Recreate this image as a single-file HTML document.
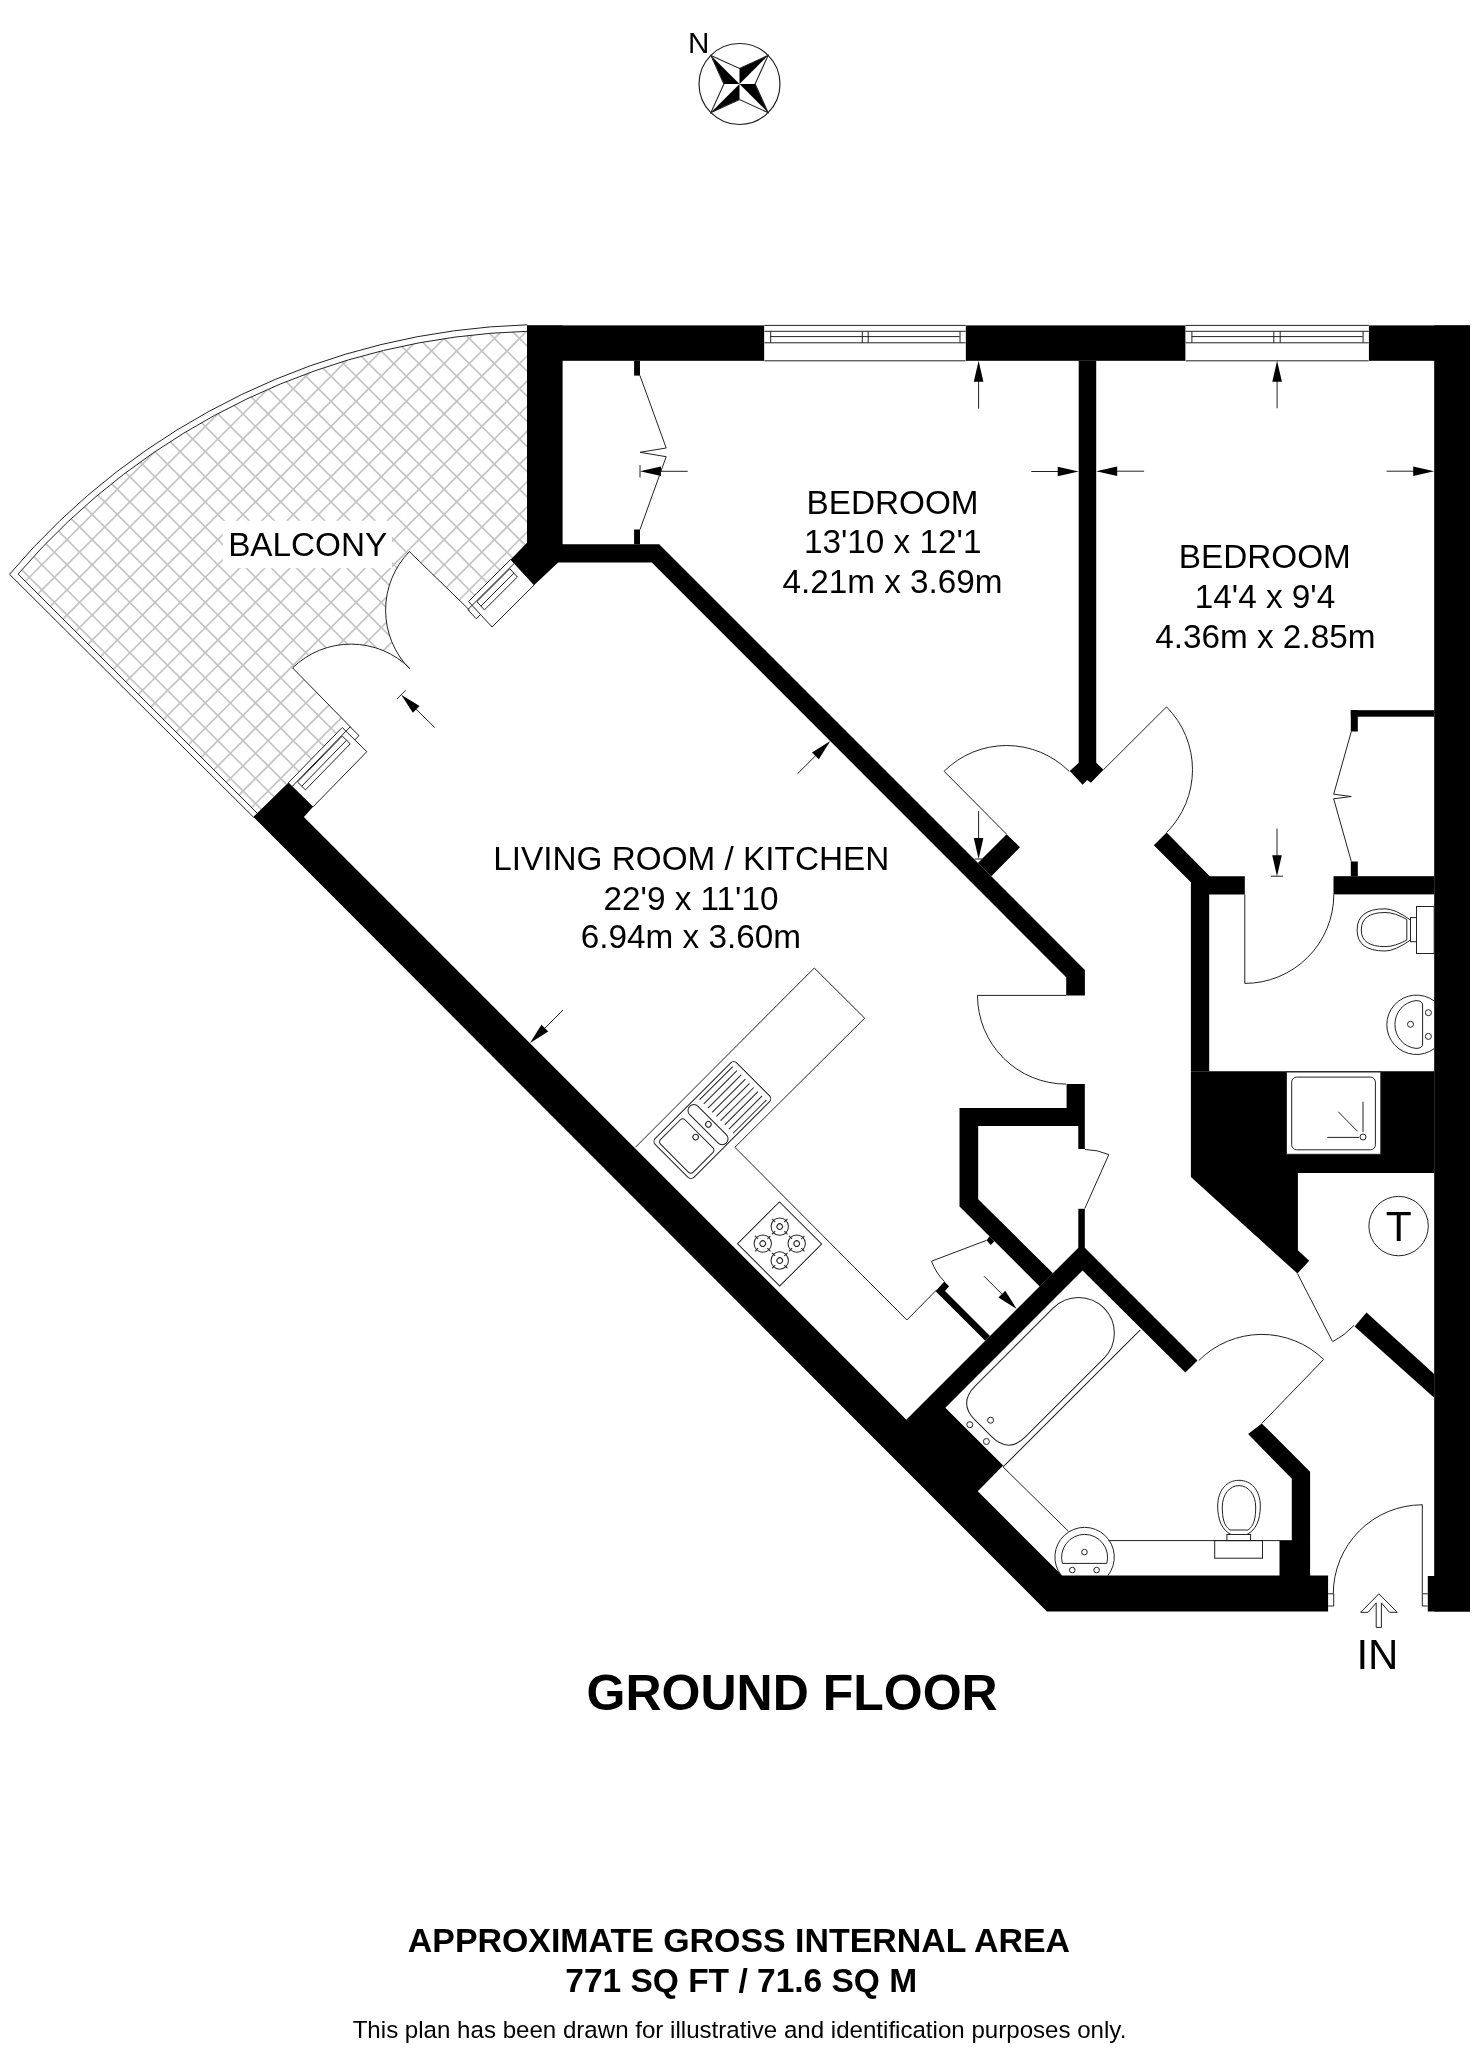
<!DOCTYPE html>
<html><head><meta charset="utf-8"><style>
html,body{margin:0;padding:0;background:#fff;width:1479px;height:2048px;overflow:hidden}
svg{display:block}
text{font-family:"Liberation Sans",sans-serif;fill:#000}
svg{will-change:transform}
</style></head><body>
<svg width="1479" height="2048" viewBox="0 0 1479 2048">
<circle cx="739.50" cy="84.00" r="40.50" fill="none" stroke="#222" stroke-width="1.2"/>
<polygon points="710.90,55.40 723.90,84.00 739.50,84.00" fill="#000" />
<polygon points="768.10,55.40 739.50,68.40 739.50,84.00" fill="#000" />
<polygon points="768.10,112.60 755.10,84.00 739.50,84.00" fill="#000" />
<polygon points="710.90,112.60 739.50,99.60 739.50,84.00" fill="#000" />
<polygon points="710.90,55.40 739.50,68.40 768.10,55.40 755.10,84.00 768.10,112.60 739.50,99.60 710.90,112.60 723.90,84.00" fill="none" stroke="#222" stroke-width="1.1" stroke-linejoin="miter"/>
<text x="698.80" y="53.00" font-size="29.6" text-anchor="middle" font-weight="normal">N</text>
<defs><clipPath id="balc"><path d="M18.05,574.1 A696.9,696.9 0 0 1 527.3,331.3 L527,542.7 L510.7,559.4 L257.3,813.3 Z"/></clipPath></defs>
<g clip-path="url(#balc)" stroke="#c4c4c4" stroke-width="1.7">
<line x1="-10" y1="990.52" x2="600" y2="1600.52"/>
<line x1="-10" y1="965.38" x2="600" y2="1575.38"/>
<line x1="-10" y1="940.24" x2="600" y2="1550.24"/>
<line x1="-10" y1="915.1" x2="600" y2="1525.1"/>
<line x1="-10" y1="889.96" x2="600" y2="1499.96"/>
<line x1="-10" y1="864.8199999999999" x2="600" y2="1474.82"/>
<line x1="-10" y1="839.6800000000001" x2="600" y2="1449.68"/>
<line x1="-10" y1="814.54" x2="600" y2="1424.54"/>
<line x1="-10" y1="789.4" x2="600" y2="1399.4"/>
<line x1="-10" y1="764.26" x2="600" y2="1374.26"/>
<line x1="-10" y1="739.12" x2="600" y2="1349.12"/>
<line x1="-10" y1="713.98" x2="600" y2="1323.98"/>
<line x1="-10" y1="688.84" x2="600" y2="1298.8400000000001"/>
<line x1="-10" y1="663.7" x2="600" y2="1273.7"/>
<line x1="-10" y1="638.56" x2="600" y2="1248.56"/>
<line x1="-10" y1="613.42" x2="600" y2="1223.42"/>
<line x1="-10" y1="588.28" x2="600" y2="1198.28"/>
<line x1="-10" y1="563.14" x2="600" y2="1173.1399999999999"/>
<line x1="-10" y1="538.0" x2="600" y2="1148.0"/>
<line x1="-10" y1="512.86" x2="600" y2="1122.8600000000001"/>
<line x1="-10" y1="487.72" x2="600" y2="1097.72"/>
<line x1="-10" y1="462.58" x2="600" y2="1072.58"/>
<line x1="-10" y1="437.44" x2="600" y2="1047.44"/>
<line x1="-10" y1="412.3" x2="600" y2="1022.3"/>
<line x1="-10" y1="387.15999999999997" x2="600" y2="997.16"/>
<line x1="-10" y1="362.02" x2="600" y2="972.02"/>
<line x1="-10" y1="336.88" x2="600" y2="946.88"/>
<line x1="-10" y1="311.74" x2="600" y2="921.74"/>
<line x1="-10" y1="286.6" x2="600" y2="896.6"/>
<line x1="-10" y1="261.46" x2="600" y2="871.46"/>
<line x1="-10" y1="236.32" x2="600" y2="846.3199999999999"/>
<line x1="-10" y1="211.18" x2="600" y2="821.1800000000001"/>
<line x1="-10" y1="186.03999999999996" x2="600" y2="796.04"/>
<line x1="-10" y1="160.89999999999998" x2="600" y2="770.9"/>
<line x1="-10" y1="135.76" x2="600" y2="745.76"/>
<line x1="-10" y1="110.62" x2="600" y2="720.62"/>
<line x1="-10" y1="85.48000000000002" x2="600" y2="695.48"/>
<line x1="-10" y1="60.339999999999975" x2="600" y2="670.3399999999999"/>
<line x1="-10" y1="35.19999999999999" x2="600" y2="645.2"/>
<line x1="-10" y1="10.059999999999945" x2="600" y2="620.06"/>
<line x1="-10" y1="-15.080000000000041" x2="600" y2="594.92"/>
<line x1="-10" y1="-40.22000000000003" x2="600" y2="569.78"/>
<line x1="-10" y1="-65.36000000000001" x2="600" y2="544.64"/>
<line x1="-10" y1="-90.5" x2="600" y2="519.5"/>
<line x1="-10" y1="-115.63999999999999" x2="600" y2="494.36"/>
<line x1="-10" y1="-140.77999999999997" x2="600" y2="469.22"/>
<line x1="-10" y1="-165.92000000000007" x2="600" y2="444.0799999999999"/>
<line x1="-10" y1="-191.06000000000006" x2="600" y2="418.93999999999994"/>
<line x1="-10" y1="-216.20000000000005" x2="600" y2="393.79999999999995"/>
<line x1="-10" y1="-241.34000000000003" x2="600" y2="368.65999999999997"/>
<line x1="-10" y1="-266.48" x2="600" y2="343.52"/>
<line x1="-10" y1="-291.62" x2="600" y2="318.38"/>
<line x1="-10" y1="-316.76" x2="600" y2="293.24"/>
<line x1="-10" y1="-341.9" x2="600" y2="268.1"/>
<line x1="-10" y1="-367.03999999999996" x2="600" y2="242.96000000000004"/>
<line x1="-10" y1="-392.18000000000006" x2="600" y2="217.81999999999994"/>
<line x1="-10" y1="-417.32000000000005" x2="600" y2="192.67999999999995"/>
<line x1="-10" y1="-442.46000000000004" x2="600" y2="167.53999999999996"/>
<line x1="-10" y1="-467.6" x2="600" y2="142.39999999999998"/>
<line x1="-10" y1="-492.74" x2="600" y2="117.25999999999999"/>
<line x1="-10" y1="-137.60000000000002" x2="600" y2="-747.6"/>
<line x1="-10" y1="-112.46000000000004" x2="600" y2="-722.46"/>
<line x1="-10" y1="-87.32000000000005" x2="600" y2="-697.32"/>
<line x1="-10" y1="-62.17999999999995" x2="600" y2="-672.18"/>
<line x1="-10" y1="-37.039999999999964" x2="600" y2="-647.04"/>
<line x1="-10" y1="-11.899999999999977" x2="600" y2="-621.9"/>
<line x1="-10" y1="13.240000000000009" x2="600" y2="-596.76"/>
<line x1="-10" y1="38.379999999999995" x2="600" y2="-571.62"/>
<line x1="-10" y1="63.51999999999998" x2="600" y2="-546.48"/>
<line x1="-10" y1="88.65999999999997" x2="600" y2="-521.34"/>
<line x1="-10" y1="113.80000000000001" x2="600" y2="-496.2"/>
<line x1="-10" y1="138.94" x2="600" y2="-471.06"/>
<line x1="-10" y1="164.08000000000004" x2="600" y2="-445.91999999999996"/>
<line x1="-10" y1="189.22000000000003" x2="600" y2="-420.78"/>
<line x1="-10" y1="214.36" x2="600" y2="-395.64"/>
<line x1="-10" y1="239.5" x2="600" y2="-370.5"/>
<line x1="-10" y1="264.64" x2="600" y2="-345.36"/>
<line x1="-10" y1="289.78000000000003" x2="600" y2="-320.21999999999997"/>
<line x1="-10" y1="314.92" x2="600" y2="-295.08"/>
<line x1="-10" y1="340.06" x2="600" y2="-269.94"/>
<line x1="-10" y1="365.20000000000005" x2="600" y2="-244.79999999999995"/>
<line x1="-10" y1="390.34000000000003" x2="600" y2="-219.65999999999997"/>
<line x1="-10" y1="415.48" x2="600" y2="-194.51999999999998"/>
<line x1="-10" y1="440.62" x2="600" y2="-169.38"/>
<line x1="-10" y1="465.76" x2="600" y2="-144.24"/>
<line x1="-10" y1="490.90000000000003" x2="600" y2="-119.09999999999997"/>
<line x1="-10" y1="516.04" x2="600" y2="-93.95999999999998"/>
<line x1="-10" y1="541.1800000000001" x2="600" y2="-68.81999999999994"/>
<line x1="-10" y1="566.32" x2="600" y2="-43.67999999999995"/>
<line x1="-10" y1="591.46" x2="600" y2="-18.539999999999964"/>
<line x1="-10" y1="616.6" x2="600" y2="6.600000000000023"/>
<line x1="-10" y1="641.74" x2="600" y2="31.74000000000001"/>
<line x1="-10" y1="666.88" x2="600" y2="56.879999999999995"/>
<line x1="-10" y1="692.02" x2="600" y2="82.01999999999998"/>
<line x1="-10" y1="717.1600000000001" x2="600" y2="107.16000000000008"/>
<line x1="-10" y1="742.3000000000001" x2="600" y2="132.30000000000007"/>
<line x1="-10" y1="767.44" x2="600" y2="157.44000000000005"/>
<line x1="-10" y1="792.58" x2="600" y2="182.58000000000004"/>
<line x1="-10" y1="817.72" x2="600" y2="207.72000000000003"/>
<line x1="-10" y1="842.86" x2="600" y2="232.86"/>
<line x1="-10" y1="868.0" x2="600" y2="258.0"/>
<line x1="-10" y1="893.1400000000001" x2="600" y2="283.1400000000001"/>
<line x1="-10" y1="918.28" x2="600" y2="308.28"/>
<line x1="-10" y1="943.4200000000001" x2="600" y2="333.4200000000001"/>
<line x1="-10" y1="968.5600000000001" x2="600" y2="358.56000000000006"/>
<line x1="-10" y1="993.7" x2="600" y2="383.70000000000005"/>
<line x1="-10" y1="1018.84" x2="600" y2="408.84000000000003"/>
<line x1="-10" y1="1043.98" x2="600" y2="433.98"/>
<line x1="-10" y1="1069.12" x2="600" y2="459.1199999999999"/>
<line x1="-10" y1="1094.26" x2="600" y2="484.26"/>
<line x1="-10" y1="1119.4" x2="600" y2="509.4000000000001"/>
<line x1="-10" y1="1144.54" x2="600" y2="534.54"/>
<line x1="-10" y1="1169.68" x2="600" y2="559.6800000000001"/>
<line x1="-10" y1="1194.8200000000002" x2="600" y2="584.8200000000002"/>
<line x1="-10" y1="1219.96" x2="600" y2="609.96"/>
<line x1="-10" y1="1245.1" x2="600" y2="635.0999999999999"/>
<line x1="-10" y1="1270.24" x2="600" y2="660.24"/>
<line x1="-10" y1="1295.38" x2="600" y2="685.3800000000001"/>
<line x1="-10" y1="1320.52" x2="600" y2="710.52"/>
<line x1="-10" y1="1345.66" x2="600" y2="735.6600000000001"/>
<line x1="-10" y1="1370.8000000000002" x2="600" y2="760.8000000000002"/>
<line x1="-10" y1="1395.94" x2="600" y2="785.94"/>
<line x1="-10" y1="1421.08" x2="600" y2="811.0799999999999"/>
<line x1="-10" y1="1446.22" x2="600" y2="836.22"/>
<line x1="-10" y1="1471.3600000000001" x2="600" y2="861.3600000000001"/>
<line x1="-10" y1="1496.5" x2="600" y2="886.5"/>
<line x1="-10" y1="1521.6399999999999" x2="600" y2="911.6399999999999"/>
<line x1="-10" y1="1546.7800000000002" x2="600" y2="936.7800000000002"/>
<line x1="-10" y1="1571.92" x2="600" y2="961.9200000000001"/>
<line x1="-10" y1="1597.06" x2="600" y2="987.06"/>
</g>
<rect x="222.80" y="520.80" width="169.10" height="47.30" fill="#fff" />
<path d="M469.50,610.10 L409.35,551.61 A83.90,83.90 0 0 0 409.35,668.59 Z" fill="#fff" stroke="none"/>
<path d="M351.00,727.60 L292.58,667.94 A83.50,83.50 0 0 1 409.84,668.35 Z" fill="#fff" stroke="none"/>
<path d="M9.5,574.3 A705.6,705.6 0 0 1 527.3,324.8" fill="none" stroke="#222" stroke-width="1.0"/>
<path d="M18.05,574.1 A696.9,696.9 0 0 1 527.3,331.3" fill="none" stroke="#222" stroke-width="1.0"/>
<line x1="9.50" y1="574.30" x2="253.50" y2="817.20" stroke="#222" stroke-width="1.0"/>
<line x1="18.05" y1="574.10" x2="257.50" y2="813.50" stroke="#222" stroke-width="1.0"/>
<line x1="409.40" y1="551.60" x2="469.50" y2="610.10" stroke="#222" stroke-width="1.0"/>
<path d="M409.35,551.61 A83.90,83.90 0 0 0 409.35,668.59" fill="none" stroke="#222" stroke-width="1.0"/>
<line x1="292.60" y1="667.90" x2="351.00" y2="727.60" stroke="#222" stroke-width="1.0"/>
<path d="M292.58,667.94 A83.50,83.50 0 0 1 409.84,668.35" fill="none" stroke="#222" stroke-width="1.0"/>
<polygon points="510.70,559.40 534.20,584.90 492.00,627.00 468.50,601.50" fill="#fff" />
<polygon points="510.70,559.40 534.20,584.90 492.00,627.00 468.50,601.50" fill="none" stroke="#222" stroke-width="1.0" stroke-linejoin="miter"/>
<polyline points="514.29,563.30 467.84,609.63 476.25,618.75 480.49,614.52" fill="none" stroke="#222" stroke-width="1.0" stroke-linejoin="miter"/>
<polygon points="509.81,568.76 476.81,601.67 484.40,609.91 517.40,576.99" fill="none" stroke="#222" stroke-width="1.0" stroke-linejoin="miter"/>
<line x1="513.88" y1="573.17" x2="480.88" y2="606.09" stroke="#222" stroke-width="1.0"/>
<polygon points="288.30,782.80 312.90,807.00 366.80,751.70 342.20,727.50" fill="#fff" />
<polygon points="288.30,782.80 312.90,807.00 366.80,751.70 342.20,727.50" fill="none" stroke="#222" stroke-width="1.0" stroke-linejoin="miter"/>
<polyline points="292.08,786.52 350.17,726.92 359.01,735.62 354.82,739.91" fill="none" stroke="#222" stroke-width="1.0" stroke-linejoin="miter"/>
<polygon points="297.46,781.99 342.29,736.00 350.27,743.86 305.45,789.85" fill="none" stroke="#222" stroke-width="1.0" stroke-linejoin="miter"/>
<line x1="301.74" y1="786.20" x2="346.57" y2="740.21" stroke="#222" stroke-width="1.0"/>
<text x="307.70" y="556.00" font-size="33.3" text-anchor="middle" font-weight="normal">BALCONY</text>
<line x1="434.70" y1="727.40" x2="414.80" y2="707.97" stroke="#222" stroke-width="1.0"/>
<polygon points="401.20,694.70 419.58,705.93 412.87,712.80" fill="#000" />
<line x1="405.53" y1="690.26" x2="396.87" y2="699.14" stroke="#222" stroke-width="1.0"/>
<rect x="527.00" y="325.40" width="237.40" height="35.40" fill="#000" />
<rect x="965.60" y="325.40" width="220.00" height="35.40" fill="#000" />
<rect x="1368.70" y="325.40" width="101.30" height="35.40" fill="#000" />
<rect x="1434.20" y="325.40" width="35.80" height="1286.10" fill="#000" />
<rect x="1427.80" y="1576.00" width="42.20" height="35.50" fill="#000" />
<polygon points="527.00,325.40 562.60,325.40 562.60,544.20 659.20,544.20 1084.90,969.90 1084.90,995.40 1066.20,995.40 1066.20,977.20 651.80,562.60 558.20,562.60 534.20,584.90 510.70,559.40 527.00,542.70" fill="#000" />
<rect x="1078.70" y="360.80" width="17.50" height="402.20" fill="#000" />
<polygon points="1078.70,762.80 1069.80,770.90 1082.60,784.70 1087.20,780.10 1090.90,782.70 1103.50,769.70 1096.20,762.80" fill="#000" />
<polygon points="977.90,862.90 1006.60,834.20 1020.00,847.20 991.30,876.20" fill="#000" />
<rect x="634.10" y="360.80" width="5.90" height="14.80" fill="#000" />
<rect x="634.10" y="529.50" width="5.90" height="14.70" fill="#000" />
<polygon points="1066.60,1083.90 1084.80,1083.90 1084.80,1149.00 1078.30,1149.00 1078.30,1125.90 978.20,1125.90 978.20,1199.30 1053.00,1273.20 1039.70,1286.40 959.50,1206.60 959.50,1107.90 1066.60,1107.90" fill="#000" />
<rect x="1078.30" y="1208.80" width="6.50" height="40.20" fill="#000" />
<polygon points="986.60,1240.30 990.70,1245.00 994.40,1241.30 989.60,1236.20" fill="#000" />
<polygon points="935.60,1291.30 944.30,1281.50 949.10,1286.30 945.00,1291.00 990.00,1336.00 985.25,1340.75" fill="#000" />
<polygon points="1078.30,1247.70 1084.80,1247.80 1197.50,1360.50 1185.40,1372.60 1082.50,1270.50 945.30,1407.70 1003.20,1465.60 977.75,1491.25 960.00,1500.00 895.00,1435.00 906.25,1419.75" fill="#000" />
<polygon points="288.30,782.80 312.90,807.00 303.90,816.90 1062.10,1575.60 1328.10,1575.60 1328.10,1611.50 1046.90,1611.50 253.30,816.90" fill="#000" />
<polygon points="1279.50,1576.00 1279.50,1540.60 1291.80,1540.60 1291.80,1478.70 1248.10,1434.10 1261.80,1423.40 1310.10,1471.70 1310.10,1576.00" fill="#000" />
<polygon points="1166.60,832.40 1209.80,876.20 1244.80,876.20 1244.80,894.40 1209.20,894.40 1209.20,1071.20 1190.90,1071.20 1190.90,882.30 1153.80,845.20" fill="#000" />
<rect x="1333.50" y="876.20" width="100.70" height="18.20" fill="#000" />
<polygon points="1190.90,1071.20 1434.20,1071.20 1434.20,1173.10 1297.90,1173.10 1297.90,1250.30 1309.20,1260.70 1297.40,1273.50 1190.90,1176.90" fill="#000" />
<polygon points="1366.50,1312.50 1434.20,1373.90 1434.20,1397.70 1354.60,1326.40" fill="#000" />
<rect x="1350.80" y="710.20" width="83.40" height="6.50" fill="#000" />
<rect x="1350.80" y="710.20" width="7.00" height="21.30" fill="#000" />
<rect x="1350.80" y="861.50" width="7.00" height="14.80" fill="#000" />
<rect x="764.40" y="325.40" width="201.20" height="35.40" fill="#fff" />
<polyline points="764.40,325.40 965.60,325.40" fill="none" stroke="#222" stroke-width="1.0" stroke-linejoin="miter"/>
<polyline points="764.40,360.80 965.60,360.80" fill="none" stroke="#222" stroke-width="1.0" stroke-linejoin="miter"/>
<line x1="764.40" y1="331.30" x2="965.60" y2="331.30" stroke="#222" stroke-width="1.0"/>
<line x1="770.40" y1="336.60" x2="959.60" y2="336.60" stroke="#222" stroke-width="1.0"/>
<line x1="764.40" y1="342.80" x2="965.60" y2="342.80" stroke="#222" stroke-width="1.0"/>
<line x1="770.70" y1="331.30" x2="770.70" y2="342.80" stroke="#222" stroke-width="1.0"/>
<line x1="862.30" y1="331.30" x2="862.30" y2="342.80" stroke="#222" stroke-width="1.0"/>
<line x1="868.20" y1="331.30" x2="868.20" y2="342.80" stroke="#222" stroke-width="1.0"/>
<line x1="960.00" y1="331.30" x2="960.00" y2="342.80" stroke="#222" stroke-width="1.0"/>
<rect x="1185.60" y="325.40" width="183.10" height="35.40" fill="#fff" />
<polyline points="1185.60,325.40 1368.70,325.40" fill="none" stroke="#222" stroke-width="1.0" stroke-linejoin="miter"/>
<polyline points="1185.60,360.80 1368.70,360.80" fill="none" stroke="#222" stroke-width="1.0" stroke-linejoin="miter"/>
<line x1="1185.60" y1="331.30" x2="1368.70" y2="331.30" stroke="#222" stroke-width="1.0"/>
<line x1="1191.60" y1="336.60" x2="1362.70" y2="336.60" stroke="#222" stroke-width="1.0"/>
<line x1="1185.60" y1="342.80" x2="1368.70" y2="342.80" stroke="#222" stroke-width="1.0"/>
<line x1="1191.90" y1="331.30" x2="1191.90" y2="342.80" stroke="#222" stroke-width="1.0"/>
<line x1="1273.80" y1="331.30" x2="1273.80" y2="342.80" stroke="#222" stroke-width="1.0"/>
<line x1="1280.20" y1="331.30" x2="1280.20" y2="342.80" stroke="#222" stroke-width="1.0"/>
<line x1="1363.10" y1="331.30" x2="1363.10" y2="342.80" stroke="#222" stroke-width="1.0"/>
<text x="892.50" y="513.90" font-size="33.3" text-anchor="middle" font-weight="normal">BEDROOM</text>
<text x="892.70" y="553.20" font-size="33.3" text-anchor="middle" font-weight="normal">13'10 x 12'1</text>
<text x="892.50" y="592.90" font-size="33.3" text-anchor="middle" font-weight="normal">4.21m x 3.69m</text>
<text x="1264.80" y="568.00" font-size="33.3" text-anchor="middle" font-weight="normal">BEDROOM</text>
<text x="1265.00" y="607.80" font-size="33.3" text-anchor="middle" font-weight="normal">14'4 x 9'4</text>
<text x="1265.30" y="647.50" font-size="33.3" text-anchor="middle" font-weight="normal">4.36m x 2.85m</text>
<text x="691.30" y="869.80" font-size="33.3" text-anchor="middle" font-weight="normal">LIVING ROOM / KITCHEN</text>
<text x="691.00" y="909.50" font-size="33.3" text-anchor="middle" font-weight="normal">22'9 x 11'10</text>
<text x="690.90" y="947.90" font-size="33.3" text-anchor="middle" font-weight="normal">6.94m x 3.60m</text>
<line x1="978.60" y1="408.70" x2="978.60" y2="379.80" stroke="#222" stroke-width="1.0"/>
<polygon points="978.60,360.80 983.40,381.80 973.80,381.80" fill="#000" />
<line x1="1031.30" y1="471.50" x2="1059.70" y2="471.50" stroke="#222" stroke-width="1.0"/>
<polygon points="1078.70,471.50 1057.70,476.30 1057.70,466.70" fill="#000" />
<line x1="687.70" y1="471.30" x2="659.00" y2="471.30" stroke="#222" stroke-width="1.0"/>
<polygon points="640.00,471.30 661.00,466.50 661.00,476.10" fill="#000" />
<line x1="640.00" y1="465.10" x2="640.00" y2="477.50" stroke="#222" stroke-width="1.0"/>
<polyline points="640.00,375.60 666.20,448.00 640.00,452.30 666.20,456.70 640.00,529.50" fill="none" stroke="#222" stroke-width="1.0" stroke-linejoin="miter"/>
<line x1="1277.10" y1="408.20" x2="1277.10" y2="379.80" stroke="#222" stroke-width="1.0"/>
<polygon points="1277.10,360.80 1281.90,381.80 1272.30,381.80" fill="#000" />
<line x1="1144.10" y1="471.20" x2="1115.20" y2="471.20" stroke="#222" stroke-width="1.0"/>
<polygon points="1096.20,471.20 1117.20,466.40 1117.20,476.00" fill="#000" />
<line x1="1386.60" y1="471.20" x2="1415.20" y2="471.20" stroke="#222" stroke-width="1.0"/>
<polygon points="1434.20,471.20 1413.20,476.00 1413.20,466.40" fill="#000" />
<polyline points="1351.30,731.50 1333.70,794.20 1351.30,796.50 1333.70,798.80 1351.30,861.50" fill="none" stroke="#222" stroke-width="1.0" stroke-linejoin="miter"/>
<line x1="797.50" y1="773.80" x2="816.84" y2="754.51" stroke="#222" stroke-width="1.0"/>
<polygon points="830.30,741.10 818.82,759.33 812.04,752.53" fill="#000" />
<line x1="563.00" y1="1010.00" x2="543.44" y2="1029.56" stroke="#222" stroke-width="1.0"/>
<polygon points="530.00,1043.00 541.46,1024.76 548.24,1031.54" fill="#000" />
<line x1="944.10" y1="771.30" x2="1006.60" y2="834.20" stroke="#222" stroke-width="1.0"/>
<path d="M944.10,771.26 A88.70,88.70 0 0 1 1069.32,771.48" fill="none" stroke="#222" stroke-width="1.0"/>
<line x1="978.60" y1="810.90" x2="978.60" y2="840.00" stroke="#222" stroke-width="1.0"/>
<polygon points="978.60,859.00 973.80,838.00 983.40,838.00" fill="#000" />
<line x1="974.60" y1="859.00" x2="982.60" y2="859.00" stroke="#222" stroke-width="1.0"/>
<line x1="1103.50" y1="769.70" x2="1166.60" y2="706.80" stroke="#222" stroke-width="1.0"/>
<path d="M1166.54,706.88 A89.00,89.00 0 0 1 1166.65,832.41" fill="none" stroke="#222" stroke-width="1.0"/>
<line x1="1244.80" y1="894.40" x2="1244.80" y2="983.40" stroke="#222" stroke-width="1.0"/>
<path d="M1244.80,983.40 A89.00,89.00 0 0 0 1333.80,894.40" fill="none" stroke="#222" stroke-width="1.0"/>
<line x1="1277.00" y1="828.50" x2="1277.00" y2="857.20" stroke="#222" stroke-width="1.0"/>
<polygon points="1277.00,876.20 1272.20,855.20 1281.80,855.20" fill="#000" />
<line x1="1271.00" y1="876.20" x2="1283.00" y2="876.20" stroke="#222" stroke-width="1.0"/>
<line x1="977.50" y1="995.40" x2="1066.20" y2="995.40" stroke="#222" stroke-width="1.0"/>
<path d="M977.50,995.40 A88.70,88.70 0 0 0 1066.20,1084.10" fill="none" stroke="#222" stroke-width="1.0"/>
<line x1="1084.80" y1="1208.50" x2="1108.80" y2="1154.60" stroke="#222" stroke-width="1.0"/>
<path d="M1108.80,1154.60 A59.00,59.00 0 0 0 1084.80,1149.50" fill="none" stroke="#222" stroke-width="1.0"/>
<line x1="986.60" y1="1240.30" x2="931.50" y2="1261.20" stroke="#222" stroke-width="1.0"/>
<path d="M931.45,1261.25 A59.00,59.00 0 0 0 944.30,1281.43" fill="none" stroke="#222" stroke-width="1.0"/>
<line x1="983.90" y1="1276.10" x2="1003.26" y2="1295.46" stroke="#222" stroke-width="1.0"/>
<polygon points="1016.70,1308.90 998.46,1297.44 1005.24,1290.66" fill="#000" />
<line x1="1261.80" y1="1423.40" x2="1323.60" y2="1359.50" stroke="#222" stroke-width="1.0"/>
<path d="M1323.62,1359.38 A89.00,89.00 0 0 0 1198.87,1360.47" fill="none" stroke="#222" stroke-width="1.0"/>
<line x1="1297.40" y1="1273.50" x2="1332.40" y2="1341.30" stroke="#222" stroke-width="1.0"/>
<path d="M1332.62,1341.75 A76.80,76.80 0 0 0 1353.93,1325.48" fill="none" stroke="#222" stroke-width="1.0"/>
<circle cx="1398.60" cy="1226.10" r="29.70" fill="none" stroke="#222" stroke-width="1.0"/>
<text x="1398.80" y="1241.00" font-size="42.5" text-anchor="middle" font-weight="normal">T</text>
<line x1="1422.30" y1="1593.80" x2="1422.30" y2="1504.50" stroke="#222" stroke-width="1.0"/>
<path d="M1422.30,1504.80 A89.00,89.00 0 0 0 1333.30,1593.80" fill="none" stroke="#222" stroke-width="1.0"/>
<polyline points="1328.10,1593.80 1333.70,1593.80 1333.70,1606.00 1328.10,1606.00" fill="none" stroke="#222" stroke-width="1.0" stroke-linejoin="miter"/>
<polyline points="1427.80,1593.80 1422.30,1593.80 1422.30,1606.00 1427.80,1606.00" fill="none" stroke="#222" stroke-width="1.0" stroke-linejoin="miter"/>
<polygon points="1378.90,1593.80 1397.30,1612.30 1389.50,1612.30 1381.40,1602.90 1381.40,1627.40 1376.20,1627.40 1376.20,1602.90 1368.10,1612.30 1360.60,1612.30" fill="none" stroke="#222" stroke-width="1.0" stroke-linejoin="miter"/>
<text x="1377.40" y="1669.30" font-size="42" text-anchor="middle" font-weight="normal">IN</text>
<polyline points="635.40,1147.30 814.30,968.00 864.70,1018.20 734.90,1147.30 906.90,1320.00 936.80,1289.70" fill="none" stroke="#222" stroke-width="1.0" stroke-linejoin="miter"/>
<g transform="matrix(0.70711,-0.70711,0.70711,0.70711,0,0)" fill="none" stroke="#222" stroke-width="1.0">
<rect x="-346" y="1268.3" width="115.3" height="54.9" rx="4.5"/>
<rect x="-342" y="1272.9" width="34.5" height="46.1" rx="3.5"/>
<rect x="-300.5" y="1270" width="11.8" height="51.8" rx="5.9"/>
<circle cx="-312.2" cy="1296" r="2.8"/><circle cx="-294.1" cy="1295.9" r="2.8"/>
<line x1="-282.9" y1="1272.30" x2="-236" y2="1272.30"/>
<line x1="-282.9" y1="1278.23" x2="-236" y2="1278.23"/>
<line x1="-282.9" y1="1284.16" x2="-236" y2="1284.16"/>
<line x1="-282.9" y1="1290.09" x2="-236" y2="1290.09"/>
<line x1="-282.9" y1="1296.02" x2="-236" y2="1296.02"/>
<line x1="-282.9" y1="1301.95" x2="-236" y2="1301.95"/>
<line x1="-282.9" y1="1307.88" x2="-236" y2="1307.88"/>
<line x1="-282.9" y1="1313.81" x2="-236" y2="1313.81"/>
<line x1="-282.9" y1="1319.74" x2="-236" y2="1319.74"/>
<rect x="-358" y="1401" width="59.3" height="59.7"/>
<circle cx="-316" cy="1418.7" r="8.7"/><circle cx="-316" cy="1418.7" r="2.8"/>
<line x1="-309.5" y1="1418.7" x2="-305" y2="1418.7"/>
<line x1="-322.5" y1="1418.7" x2="-327" y2="1418.7"/>
<line x1="-316.0" y1="1425.2" x2="-316" y2="1429.7"/>
<line x1="-316.0" y1="1412.2" x2="-316" y2="1407.7"/>
<circle cx="-316" cy="1442.7" r="8.7"/><circle cx="-316" cy="1442.7" r="2.8"/>
<line x1="-309.5" y1="1442.7" x2="-305" y2="1442.7"/>
<line x1="-322.5" y1="1442.7" x2="-327" y2="1442.7"/>
<line x1="-316.0" y1="1449.2" x2="-316" y2="1453.7"/>
<line x1="-316.0" y1="1436.2" x2="-316" y2="1431.7"/>
<circle cx="-340" cy="1418.7" r="8.7"/><circle cx="-340" cy="1418.7" r="2.8"/>
<line x1="-333.5" y1="1418.7" x2="-329" y2="1418.7"/>
<line x1="-346.5" y1="1418.7" x2="-351" y2="1418.7"/>
<line x1="-340.0" y1="1425.2" x2="-340" y2="1429.7"/>
<line x1="-340.0" y1="1412.2" x2="-340" y2="1407.7"/>
<circle cx="-340" cy="1442.7" r="8.7"/><circle cx="-340" cy="1442.7" r="2.8"/>
<line x1="-333.5" y1="1442.7" x2="-329" y2="1442.7"/>
<line x1="-346.5" y1="1442.7" x2="-351" y2="1442.7"/>
<line x1="-340.0" y1="1449.2" x2="-340" y2="1453.7"/>
<line x1="-340.0" y1="1436.2" x2="-340" y2="1431.7"/>
</g>
<g transform="matrix(0.70711,-0.70711,0.70711,0.70711,0,0)" fill="none" stroke="#222" stroke-width="1.0">
<path d="M-134,1746.6 L-328,1746.6"/>
<path d="M-180,1669.7 L-290.7,1669.7 Q-314.7,1669.7 -314.7,1693.7 L-314.7,1717.1 Q-314.7,1741.1 -290.7,1741.1 L-180,1741.1 A35.7,35.7 0 0 0 -180,1669.7 Z"/>
</g>
<path d="M0,0"/>
<circle cx="969.80" cy="1424.70" r="3.00" fill="none" stroke="#222" stroke-width="1.0"/>
<circle cx="990.60" cy="1420.20" r="3.00" fill="none" stroke="#222" stroke-width="1.0"/>
<circle cx="986.40" cy="1441.50" r="3.00" fill="none" stroke="#222" stroke-width="1.0"/>
<line x1="1003.20" y1="1467.10" x2="1068.60" y2="1531.40" stroke="#222" stroke-width="1.0"/>
<line x1="1108.20" y1="1540.60" x2="1291.80" y2="1540.60" stroke="#222" stroke-width="1.0"/>
<path d="M1061.4,1575.6 A29.7,29.7 0 1 1 1107.8,1575.6" fill="none" stroke="#222" stroke-width="1.0"/>
<path d="M1062.4,1563.4 A23,23 0 1 1 1106.8,1563.4 Z" fill="none" stroke="#222" stroke-width="1.0"/>
<circle cx="1084.50" cy="1552.10" r="2.80" fill="none" stroke="#222" stroke-width="1.0"/>
<circle cx="1072.30" cy="1570.10" r="2.80" fill="none" stroke="#222" stroke-width="1.0"/>
<circle cx="1096.60" cy="1570.10" r="2.80" fill="none" stroke="#222" stroke-width="1.0"/>
<rect x="1214.70" y="1540.60" width="47.80" height="17.60" fill="none" stroke="#222" stroke-width="1.0"/>
<rect x="1226.90" y="1534.50" width="23.70" height="6.10" fill="none" stroke="#222" stroke-width="1.0"/>
<path d="M1231,1534.5 C1222,1530 1217.7,1520 1217.7,1506 C1217.7,1490 1227,1480.3 1239,1480.3 C1251,1480.3 1260.3,1490 1260.3,1506 C1260.3,1520 1256,1530 1247,1534.5" fill="none" stroke="#222" stroke-width="1.0"/>
<path d="M1230,1530 C1224,1526 1222.3,1518 1222.3,1507 C1222.3,1494 1230,1485.6 1239,1485.6 C1248,1485.6 1255.7,1494 1255.7,1507 C1255.7,1518 1254,1526 1248,1530 Z" fill="none" stroke="#222" stroke-width="1.0"/>
<rect x="1286.40" y="1072.00" width="94.40" height="82.30" fill="#fff" stroke="#222" stroke-width="1.0"/>
<rect x="1291.70" y="1077.10" width="83.70" height="72.70" fill="none" rx="5" stroke="#222" stroke-width="1.0"/>
<line x1="1363.00" y1="1101.70" x2="1363.00" y2="1132.00" stroke="#222" stroke-width="1.0"/>
<line x1="1327.30" y1="1137.40" x2="1359.10" y2="1137.40" stroke="#222" stroke-width="1.0"/>
<line x1="1338.30" y1="1111.80" x2="1357.60" y2="1131.40" stroke="#222" stroke-width="1.0"/>
<circle cx="1363.00" cy="1137.00" r="3.00" fill="none" stroke="#222" stroke-width="1.0"/>
<rect x="1416.50" y="906.50" width="17.70" height="47.00" fill="none" stroke="#222" stroke-width="1.0"/>
<rect x="1410.50" y="917.60" width="6.00" height="24.10" fill="none" stroke="#222" stroke-width="1.0"/>
<path d="M1410.5,920 Q1395,908.8 1385,908.8 Q1357.1,908.8 1357.1,930 Q1357.1,951 1385,951 Q1395,951 1410.5,940" fill="none" stroke="#222" stroke-width="1.0"/>
<path d="M1406.8,919.5 Q1395,912.5 1385,912.5 Q1361.3,912.5 1361.3,930 Q1361.3,946.6 1385,946.6 Q1395,946.6 1406.8,940 Z" fill="none" stroke="#222" stroke-width="1.0"/>
<path d="M1434.2,1000.95 A29.7,29.7 0 1 0 1434.2,1048.65" fill="none" stroke="#222" stroke-width="1.0"/>
<path d="M1422.6,1005 Q1422.6,1000.6 1416,1000.6 A23.2,24 0 0 0 1416,1048.4 Q1422.6,1048.4 1422.6,1044 Z" fill="none" stroke="#222" stroke-width="1.0"/>
<circle cx="1428.40" cy="1012.70" r="3.00" fill="none" stroke="#222" stroke-width="1.0"/>
<circle cx="1428.40" cy="1036.40" r="3.00" fill="none" stroke="#222" stroke-width="1.0"/>
<circle cx="1410.50" cy="1024.30" r="3.00" fill="none" stroke="#222" stroke-width="1.0"/>
<text x="792.10" y="1710.10" font-size="50" text-anchor="middle" font-weight="bold">GROUND FLOOR</text>
<text x="738.90" y="1952.40" font-size="33.9" text-anchor="middle" font-weight="bold">APPROXIMATE GROSS INTERNAL AREA</text>
<text x="741.20" y="1991.90" font-size="33.5" text-anchor="middle" font-weight="bold">771 SQ FT / 71.6 SQ M</text>
<text x="739.50" y="2038.00" font-size="24.1" text-anchor="middle" font-weight="normal">This plan has been drawn for illustrative and identification purposes only.</text>
</svg></body></html>
